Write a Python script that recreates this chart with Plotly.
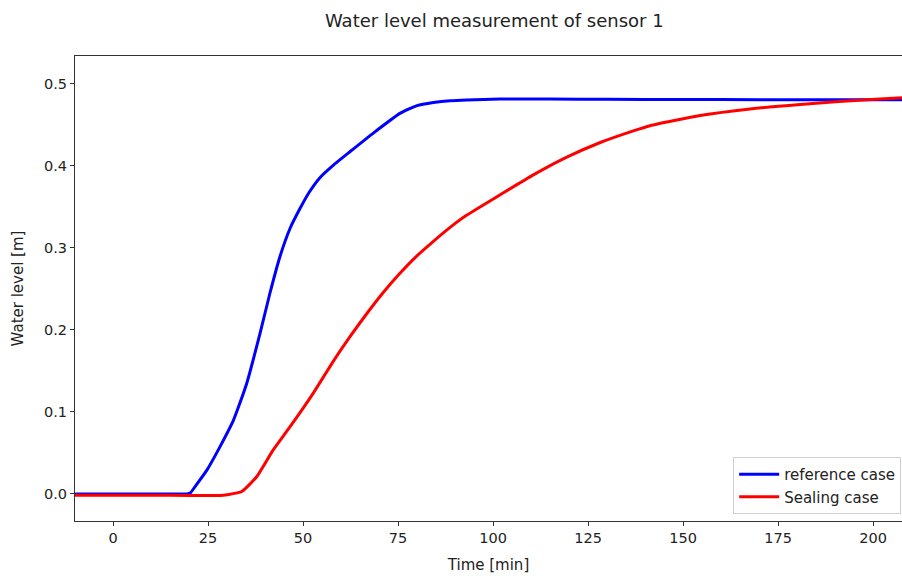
import plotly.graph_objects as go

# Reference case (time [min], water level [m])
ref_time = [-10, 0, 10, 19.5, 20.3, 21.6, 24.7, 28.2, 31.7, 35.2, 38.7, 41.3, 43.9, 46.6, 49.2,
            51.5, 54.5, 58, 62.4, 68.5, 75.5, 80, 84.3, 88.7, 93.1, 101.8, 115, 130, 150, 170,
            190, 207.6]
ref_level = [0.0, 0.0, 0.0, 0.0, 0.001, 0.009, 0.029, 0.058, 0.090, 0.135, 0.196, 0.245, 0.289,
             0.324, 0.348, 0.367, 0.386, 0.401, 0.4175, 0.44, 0.464, 0.4735, 0.4772, 0.4795,
             0.4805, 0.4815, 0.4815, 0.4812, 0.481, 0.4808, 0.4808, 0.4808]

# Sealing case
seal_time = [-10, 0, 10, 20, 25.5, 28.2, 30, 33.9, 37.8, 42.2, 46.6, 52.7, 58, 62.4, 66.8, 71,
             75.5, 79.9, 84.3, 88.7, 93.1, 101.8, 110.6, 119.4, 128.2, 136.9, 141.3, 154.5,
             167.6, 180.8, 191, 201.8, 207.6]
seal_level = [-0.0015, -0.0015, -0.0015, -0.0018, -0.002, -0.002, -0.001, 0.003, 0.021, 0.054,
              0.082, 0.123, 0.162, 0.192, 0.220, 0.245, 0.269, 0.290, 0.308, 0.325, 0.340,
              0.3646, 0.389, 0.4106, 0.4285, 0.4427, 0.449, 0.4615, 0.4695, 0.475, 0.4785,
              0.4815, 0.483]

x_ticks = [0, 25, 50, 75, 100, 125, 150, 175, 200]
y_ticks = [0.0, 0.1, 0.2, 0.3, 0.4, 0.5]

font_family = "DejaVu Sans"
axis_color = "#333333"
text_color = "#222222"

fig = go.Figure()
fig.add_trace(go.Scatter(x=ref_time, y=ref_level, mode="lines", name="reference case",
                         line=dict(color="#0000ff", width=3, shape="spline", smoothing=0.5)))
fig.add_trace(go.Scatter(x=seal_time, y=seal_level, mode="lines", name="Sealing case",
                         line=dict(color="#ff0000", width=3, shape="spline", smoothing=0.5)))

fig.update_layout(
    width=902, height=579,
    margin=dict(l=75, r=0, t=56, b=58),
    paper_bgcolor="white", plot_bgcolor="white",
    font=dict(family=font_family, size=14, color=text_color),
    title=dict(text="Water level measurement of sensor 1", x=0.548, xanchor="center",
               y=0.965, yanchor="middle", font=dict(size=18, color=text_color)),
    showlegend=True,
    legend=dict(x=0.999, y=0.015, xanchor="right", yanchor="bottom",
                bgcolor="rgba(255,255,255,0.8)", bordercolor="#d0d0d0", borderwidth=1,
                font=dict(size=15, color=text_color), tracegroupgap=0, itemwidth=40),
)
fig.update_xaxes(range=[-10, 207.6], tickvals=x_ticks, ticktext=[str(v) for v in x_ticks],
                 showgrid=False, zeroline=False, showline=True, linecolor=axis_color, linewidth=1,
                 mirror=True, ticks="outside", ticklen=4, tickcolor=axis_color,
                 title=dict(text="Time [min]", standoff=14, font=dict(size=15)),
                 tickfont=dict(size=14.5))
fig.update_yaxes(range=[-0.033, 0.534], tickvals=y_ticks, ticktext=[f"{v:.1f}" for v in y_ticks],
                 showgrid=False, zeroline=False, showline=True, linecolor=axis_color, linewidth=1,
                 ticks="outside", ticklen=4, tickcolor=axis_color,
                 title=dict(text="Water level [m]", standoff=16, font=dict(size=15)),
                 tickfont=dict(size=14.5))

fig.write_html("out.html")
